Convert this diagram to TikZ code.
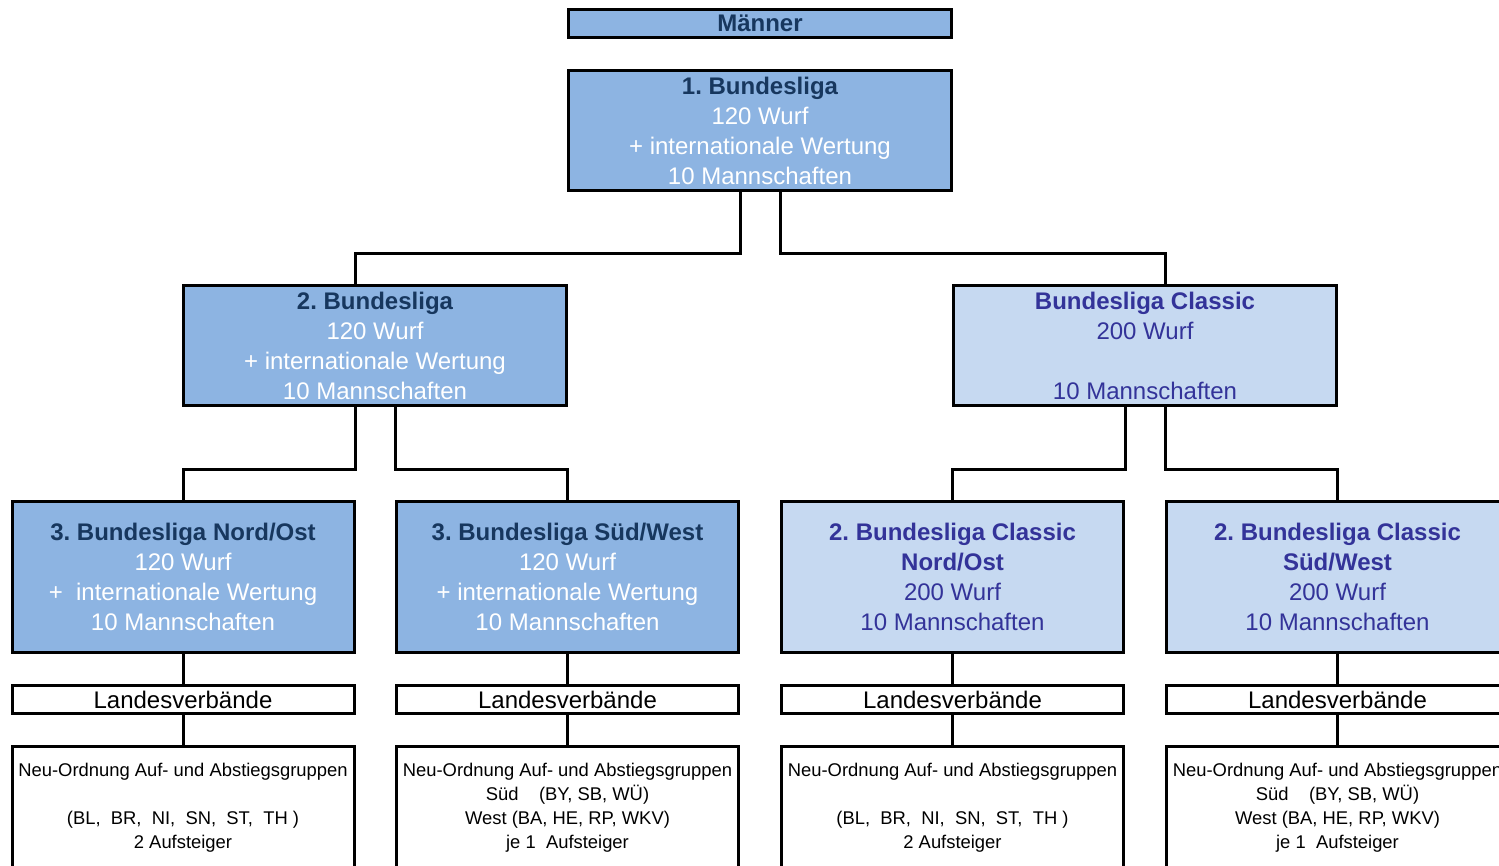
\documentclass[tikz,border=0pt]{standalone}
\usepackage{fontspec}
\setmainfont{Liberation Sans}
\frenchspacing
\definecolor{dkfill}{HTML}{8DB4E2}
\definecolor{ltfill}{HTML}{C6D9F1}
\definecolor{navy}{HTML}{17375E}
\definecolor{indig}{HTML}{333399}
\tikzset{
  box/.style={draw, line width=1.5pt, inner sep=0pt, align=center, font=\fontsize{12}{15}\selectfont},
  dark/.style={box, fill=dkfill, text=white},
  light/.style={box, fill=ltfill, text=indig},
  wide/.style={minimum width=191.5pt, minimum height=60pt},
  third/.style={minimum width=171pt, minimum height=75.5pt},
  lv/.style={box, fill=white, text=black, minimum width=171pt, minimum height=14pt},
  grp/.style={draw, line width=1.5pt, inner sep=0pt, align=center, fill=white, text=black,
    font=\fontsize{9.2}{12}\selectfont, minimum width=171pt, minimum height=61.75pt},
  conn/.style={line width=1.5pt}
}
\newcommand{\ttl}[2]{{\color{#1}\bfseries #2}}
\begin{document}
\begin{tikzpicture}[x=0.5pt,y=-0.5pt]
\useasboundingbox (0,0) rectangle (1499,866);
\clip (0,0) rectangle (1499,866);
% top
\node[box, fill=dkfill, minimum width=191.5pt, minimum height=14pt] (m) at (760,23.5) {\ttl{navy}{Männer}};
\node[dark, wide] (b1) at (760,130.5) {\ttl{navy}{1. Bundesliga}\\120 Wurf\\+ internationale Wertung\\10 Mannschaften};
% row 2
\node[dark, wide] (b2) at (375,345.5) {\ttl{navy}{2. Bundesliga}\\120 Wurf\\+ internationale Wertung\\10 Mannschaften};
\node[light, wide] (bc) at (1145,345.5) {\ttl{indig}{Bundesliga Classic}\\200 Wurf\\\mbox{}\\10 Mannschaften};
% row 3
\node[dark, third] (r1) at (183,577) {\ttl{navy}{3. Bundesliga Nord/Ost}\\120 Wurf\\+\ \ internationale Wertung\\10 Mannschaften};
\node[dark, third] (r2) at (567.5,577) {\ttl{navy}{3. Bundesliga Süd/West}\\120 Wurf\\+ internationale Wertung\\10 Mannschaften};
\node[light, third] (r3) at (952.5,577) {\ttl{indig}{2. Bundesliga Classic}\\\ttl{indig}{Nord/Ost}\\200 Wurf\\10 Mannschaften};
\node[light, third] (r4) at (1337.5,577) {\ttl{indig}{2. Bundesliga Classic}\\\ttl{indig}{Süd/West}\\200 Wurf\\10 Mannschaften};
% Landesverbaende
\foreach \i/\x in {1/183,2/567.5,3/952.5,4/1337.5}{
  \node[lv] (lv\i) at (\x,699.5) {Landesverbände};
}
% groups
\node[grp] (g1) at (183,808) {Neu-Ordnung Auf- und Abstiegsgruppen\\\mbox{}\\(BL,\ \ BR,\ \ NI,\ \ SN,\ \ ST,\ \ TH )\\2 Aufsteiger};
\node[grp] (g2) at (567.5,808) {Neu-Ordnung Auf- und Abstiegsgruppen\\Süd\ \ \ \ (BY, SB, WÜ)\\West (BA, HE, RP, WKV)\\je 1\ \ Aufsteiger};
\node[grp] (g3) at (952.5,808) {Neu-Ordnung Auf- und Abstiegsgruppen\\\mbox{}\\(BL,\ \ BR,\ \ NI,\ \ SN,\ \ ST,\ \ TH )\\2 Aufsteiger};
\node[grp] (g4) at (1337.5,808) {Neu-Ordnung Auf- und Abstiegsgruppen\\Süd\ \ \ \ (BY, SB, WÜ)\\West (BA, HE, RP, WKV)\\je 1\ \ Aufsteiger};
% connectors
\draw[conn] ([xshift=-10pt]b1.south) -- ++(0,62) -| ([xshift=-10pt]b2.north);
\draw[conn] ([xshift=10pt]b1.south) -- ++(0,62) -| ([xshift=10pt]bc.north);
\draw[conn] ([xshift=-10pt]b2.south) -- ++(0,62) -| (r1.north);
\draw[conn] ([xshift=10pt]b2.south) -- ++(0,62) -| (r2.north);
\draw[conn] ([xshift=-10pt]bc.south) -- ++(0,62) -| (r3.north);
\draw[conn] ([xshift=10pt]bc.south) -- ++(0,62) -| (r4.north);
\foreach \i in {1,2,3,4}{
  \draw[conn] (r\i.south) -- (lv\i.north);
  \draw[conn] (lv\i.south) -- (g\i.north);
}
\end{tikzpicture}
\end{document}
